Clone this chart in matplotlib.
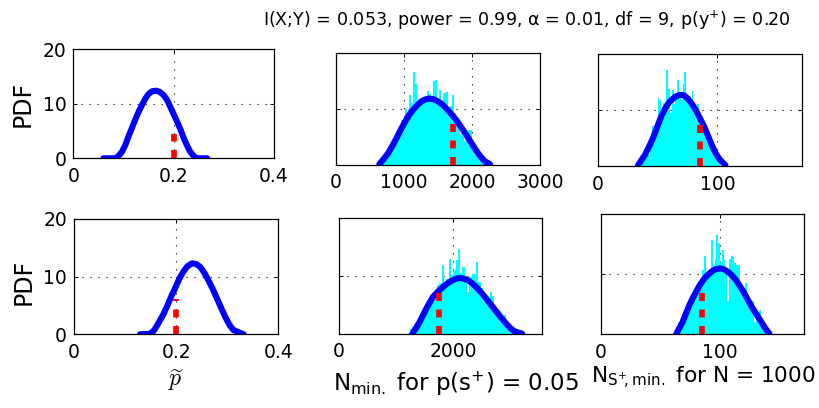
import numpy as np
import matplotlib
matplotlib.use('Agg')
import matplotlib.pyplot as plt

plt.rcParams['font.family'] = ['DejaVu Sans']
plt.rcParams['mathtext.fontset'] = 'dejavusans'

# ---------------- data ----------------
title_text = 'I(X;Y) = 0.053, power = 0.99, α = 0.01, df = 9, p(y$^{+}$) = 0.20'
ylabel_text = 'PDF'
xlabel_left = r'$\widetilde{p}$'
xlabel_mid = r'N$_{\rm min.}$ for p(s$^{+}$) = 0.05'
xlabel_right = r'N$_{\rm S^{+}\!,min.}$ for N = 1000'

# top-left PDF curve
p1_x = [0.060, 0.083, 0.090, 0.097, 0.104, 0.110, 0.117, 0.123, 0.130, 0.137, 0.144, 0.150, 0.157,
        0.165, 0.172, 0.180, 0.187, 0.193, 0.200, 0.207, 0.214, 0.220, 0.227, 0.233, 0.240, 0.247, 0.267]
p1_y = [0, 0, 0.4, 1.2, 2.5, 4.0, 5.6, 7.0, 8.5, 9.8, 11.0, 11.8, 12.3,
        12.4, 12.2, 11.6, 10.7, 9.5, 8.1, 6.7, 5.2, 3.7, 2.3, 1.2, 0.4, 0, 0]
p1_ref = 0.2
p1_ref_top = 4.46

# bottom-left PDF curve
p4_x = [0.129, 0.149, 0.157, 0.165, 0.174, 0.182, 0.190, 0.198, 0.206, 0.214, 0.222, 0.231,
        0.239, 0.247, 0.255, 0.263, 0.272, 0.280, 0.288, 0.296, 0.304, 0.312, 0.332]
p4_y = [0, 0.1, 0.7, 1.9, 3.3, 4.8, 6.5, 8.0, 9.6, 10.85, 11.8, 12.3,
        12.2, 11.7, 10.7, 9.4, 7.8, 6.2, 4.6, 3.05, 1.7, 0.75, 0]
p4_ref = 0.2
p4_ref_top = 6.07

# top-middle: histogram + fitted curve
p2_hist_start = 650
p2_hist_width = 30
p2_hist = [0.3, 0.8, 1.3, 2.2, 2.0, 3.4, 3.0, 4.6, 5.6, 5.2, 8.0, 7.2, 10.0, 8.6, 12.5, 11.0, 16.6, 14.5,
           10.5, 11.8, 10.8, 12.0, 11.5, 13.2, 12.7, 11.2, 15.0, 15.2, 12.0, 13.4, 10.6, 12.8, 13.0, 9.5,
           10.5, 12.4, 9.3, 7.6, 6.5, 5.5, 6.6, 4.3, 4.6, 6.3, 6.2, 2.8, 1.8, 1.6, 1.0, 0.8, 0.6, 0.4, 0.3, 0.2]
p2_x = [637, 700, 769, 830, 892, 953, 1014, 1075, 1136, 1197, 1258, 1315, 1372, 1426, 1480, 1553,
        1627, 1700, 1774, 1847, 1921, 1995, 2068, 2130, 2190, 2264]
p2_y = [0.1, 1.0, 2.1, 3.4, 4.8, 6.3, 7.65, 8.9, 9.86, 10.7, 11.36, 11.7, 11.84, 11.75, 11.47, 10.9,
        10.0, 9.0, 7.9, 6.6, 5.26, 3.8, 2.4, 1.4, 0.6, 0.1]
p2_ref = 1725
p2_ref_top = 7.3

# top-right
p3_hist_start = 35
p3_hist_width = 1.5
p3_hist = [0.4, 0.8, 1.2, 1.8, 2.6, 2.0, 4.6, 7.1, 5.8, 7.5, 12.1, 11.8, 8.8, 11.2, 10.3, 17.1, 13.8,
           9.5, 13.6, 11.0, 12.0, 15.4, 12.5, 11.8, 14.6, 16.7, 12.2, 11.5, 10.8, 13.3, 9.5, 9.8, 11.1,
           8.0, 6.5, 7.2, 5.5, 6.8, 4.8, 5.0, 3.0, 2.6, 3.3, 1.5, 0.8]
p3_x = [33.7, 39.3, 42.7, 46.2, 49.7, 53.2, 56.7, 60.2, 64.4, 68.6, 72.0, 75.5, 79.0, 82.5, 86.0,
        89.5, 93.0, 96.4, 99.2, 102.0, 106.7]
p3_y = [0.2, 1.95, 3.4, 5.0, 7.0, 8.9, 10.4, 11.5, 12.3, 12.7, 12.6, 12.0, 11.0, 9.8, 8.3,
        6.8, 5.0, 3.25, 2.1, 1.2, 0.2]
p3_ref = 85.3
p3_ref_top = 7.3

# bottom-middle
p5_hist_start = 1240
p5_hist_width = 40
p5_hist = [0.9, 1.2, 1.5, 2.0, 2.8, 3.5, 4.0, 5.0, 5.8, 6.2, 6.8, 7.8, 8.4, 8.8, 11.9, 8.2, 9.5, 12.9,
           10.2, 11.0, 12.8, 14.6, 10.6, 11.5, 9.8, 7.2, 9.8, 10.3, 10.4, 12.4, 9.0, 8.0, 5.5, 6.0, 5.2,
           7.3, 6.6, 4.2, 3.6, 3.9, 2.4, 3.2, 2.0, 1.2, 0.6, 0.4]
p5_x = [1285, 1349, 1413, 1471, 1529, 1587, 1645, 1733, 1820, 1893, 1965, 2038, 2111, 2184, 2256,
        2329, 2401, 2489, 2576, 2663, 2750, 2838, 2925, 2998, 3071, 3204]
p5_y = [0.05, 1.0, 2.07, 3.2, 4.37, 5.4, 6.38, 7.3, 8.1, 8.7, 9.14, 9.5, 9.66, 9.55, 9.25,
        8.75, 8.1, 7.15, 6.09, 5.0, 3.9, 2.8, 1.78, 1.0, 0.46, 0.05]
p5_ref = 1750
p5_ref_top = 7.07

# bottom-right
p6_hist_start = 62.7
p6_hist_width = 1.5
p6_hist = [0.7, 1.0, 1.4, 1.8, 2.4, 2.8, 3.6, 4.4, 5.2, 5.8, 6.4, 7.2, 7.5, 8.4, 9.2, 10.7, 13.0, 9.5,
           10.3, 10.8, 15.7, 11.5, 12.5, 16.5, 15.1, 12.0, 14.0, 12.3, 11.0, 5.5, 12.5, 13.0, 12.8, 11.8,
           11.6, 11.5, 8.5, 8.0, 7.6, 8.5, 6.2, 5.5, 5.0, 5.6, 2.0, 3.6, 3.2, 4.0, 1.5, 0.8]
p6_x = [63.3, 68.9, 71.7, 74.5, 77.3, 80.1, 83.6, 87.1, 90.6, 94.1, 97.2, 100.3, 103.5, 106.7,
        110.2, 113.7, 117.2, 120.7, 124.2, 127.7, 131.2, 134.7, 138.2, 141.7]
p6_y = [0, 2.1, 3.5, 4.87, 6.0, 7.08, 8.3, 9.3, 10.0, 10.57, 10.85, 10.96, 10.8, 10.4,
        9.8, 9.0, 7.9, 6.8, 5.5, 4.3, 3.2, 2.1, 1.0, 0.1]
p6_ref = 84.9
p6_ref_top = 6.8

pdf_xticks = [0, 0.2, 0.4]
pdf_xticklabels = ['0', '0.2', '0.4']
pdf_yticks = [0, 10, 20]
pdf_yticklabels = ['0', '10', '20']
p2_xticks = [0, 1000, 2000, 3000]
p3_xticks = [0, 100]
p5_xticks = [0, 2000]
p6_xticks = [0, 100]

# ---------------- figure ----------------
W, H = 820, 408
fig = plt.figure(figsize=(W / 100, H / 100), dpi=100)

def box(x0, y0, x1, y1):
    return [x0 / W, 1 - y1 / H, (x1 - x0) / W, (y1 - y0) / H]

TICK_FS = 13.5
BLUE = '#0000ff'
RED = '#ff0000'
CYAN = '#00ffff'

def style(ax, xlim, xticks, xticklabels, yticklabels):
    ax.set_xlim(*xlim)
    ax.set_ylim(0, 20)
    ax.set_xticks(xticks)
    ax.set_xticklabels(xticklabels, fontsize=TICK_FS)
    ax.set_yticks(pdf_yticks)
    ax.set_yticklabels(yticklabels, fontsize=TICK_FS)
    ax.tick_params(direction='in', length=3, width=0.7, top=True, right=True, pad=5)
    ax.tick_params(axis='x', pad=6)
    ax.set_axisbelow(True)
    ax.grid(True, linestyle=(0, (1.2, 6)), color='#222222', linewidth=0.8)
    for s in ax.spines.values():
        s.set_linewidth(0.9)
        s.set_color('black')

def curve(ax, x, y):
    ax.plot(x, y, color=BLUE, linewidth=4.4, solid_capstyle='round', solid_joinstyle='round', zorder=3)

def ref(ax, xv, top):
    ax.plot([xv, xv], [0, top], color=RED, linewidth=4.1, linestyle=(0, (1.4, 1.5)),
            dash_capstyle='butt', zorder=4)

def hist(ax, start, width, heights):
    centers = start + width * (np.arange(len(heights)) + 0.5)
    ax.bar(centers, heights, width=width, color=CYAN, edgecolor='none', linewidth=0, zorder=2)

# panel 1 (top-left)
ax1 = fig.add_axes(box(73.3, 49.3, 274, 158.3))
curve(ax1, p1_x, p1_y)
ref(ax1, p1_ref, p1_ref_top)
style(ax1, (0, 0.4), pdf_xticks, pdf_xticklabels, pdf_yticklabels)

# panel 2 (top-middle)
ax2 = fig.add_axes(box(336, 53, 540, 164.7))
hist(ax2, p2_hist_start, p2_hist_width, p2_hist)
curve(ax2, p2_x, p2_y)
ref(ax2, p2_ref, p2_ref_top)
style(ax2, (0, 3000), p2_xticks, [str(v) for v in p2_xticks], ['', '', ''])

# panel 3 (top-right)
ax3 = fig.add_axes(box(597.7, 53.7, 802.3, 166.3))
hist(ax3, p3_hist_start, p3_hist_width, p3_hist)
curve(ax3, p3_x, p3_y)
ref(ax3, p3_ref, p3_ref_top)
style(ax3, (0, 171), p3_xticks, [str(v) for v in p3_xticks], ['', '', ''])

# panel 4 (bottom-left)
ax4 = fig.add_axes(box(74, 219, 278.3, 334.3))
curve(ax4, p4_x, p4_y)
ref(ax4, p4_ref, p4_ref_top)
style(ax4, (0, 0.4), pdf_xticks, pdf_xticklabels, pdf_yticklabels)

# panel 5 (bottom-middle)
ax5 = fig.add_axes(box(338.7, 218, 542, 334))
hist(ax5, p5_hist_start, p5_hist_width, p5_hist)
curve(ax5, p5_x, p5_y)
ref(ax5, p5_ref, p5_ref_top)
style(ax5, (0, 3550), p5_xticks, [str(v) for v in p5_xticks], ['', '', ''])

# panel 6 (bottom-right)
ax6 = fig.add_axes(box(600.7, 214, 804.3, 334.3))
hist(ax6, p6_hist_start, p6_hist_width, p6_hist)
curve(ax6, p6_x, p6_y)
ref(ax6, p6_ref, p6_ref_top)
style(ax6, (0, 171), p6_xticks, [str(v) for v in p6_xticks], ['', '', ''])

# labels
fig.text(23 / W, 1 - 104 / H, ylabel_text, rotation=90, ha='center', va='center', fontsize=17)
fig.text(24 / W, 1 - 282 / H, ylabel_text, rotation=90, ha='center', va='center', fontsize=17)
fig.text(527 / W, 1 - 20 / H, title_text, ha='center', va='center', fontsize=12.6)
fig.text(176 / W, 1 - 380 / H, xlabel_left, ha='center', va='center', fontsize=17,
         math_fontfamily='cm')
fig.text(456 / W, 1 - 391 / H, xlabel_mid, ha='center', va='baseline', fontsize=16.5)
fig.text(703 / W, 1 - 383 / H, xlabel_right, ha='center', va='baseline', fontsize=15.6)

fig.savefig('out.png', dpi=100)
